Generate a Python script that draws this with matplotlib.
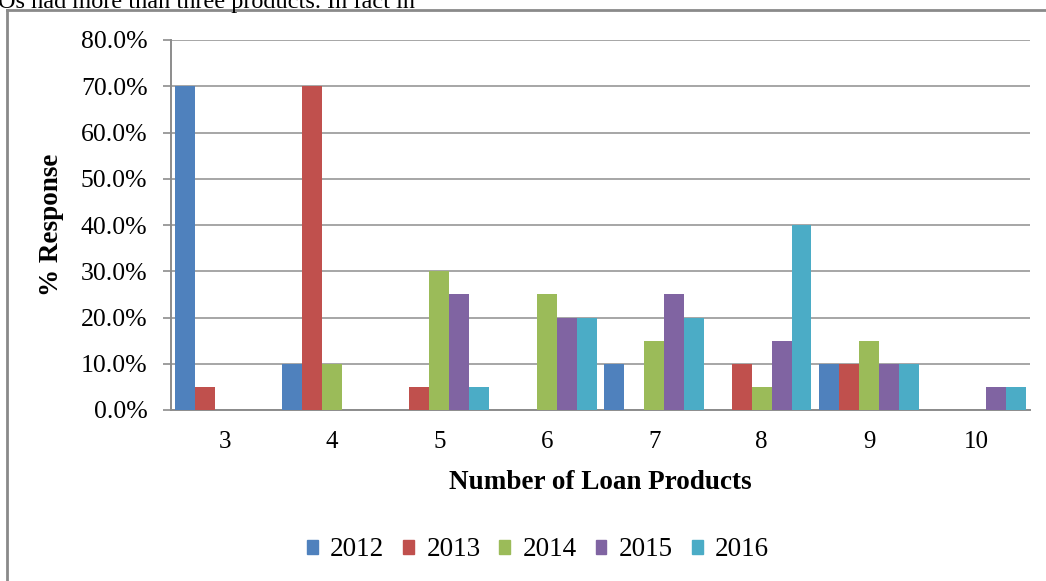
import numpy as np
import matplotlib.pyplot as plt
from matplotlib.patches import Patch
from matplotlib.lines import Line2D

plt.rcParams['font.family'] = ['Liberation Serif', 'DejaVu Serif']

# data
products = ['3', '4', '5', '6', '7', '8', '9', '10']
years = ['2012', '2013', '2014', '2015', '2016']
r2012 = [70, 10, 0, 0, 10, 0, 10, 0]
r2013 = [5, 70, 5, 0, 0, 10, 10, 0]
r2014 = [0, 10, 30, 25, 15, 5, 15, 0]
r2015 = [0, 0, 25, 20, 25, 15, 10, 5]
r2016 = [0, 0, 5, 20, 20, 40, 10, 5]
y_ticks = [0, 10, 20, 30, 40, 50, 60, 70, 80]

series = [r2012, r2013, r2014, r2015, r2016]
colors = ['#4F81BD', '#C0504D', '#9BBB59', '#8064A2', '#4BACC6']

W, H = 1046, 581
fig = plt.figure(figsize=(W / 100, H / 100), dpi=100)
ax = fig.add_axes([171 / W, 1 - 410 / H, (1030 - 171) / W, (410 - 40) / H])

x = np.arange(len(products))
bw = 0.186
for i, (vals, c) in enumerate(zip(series, colors)):
    ax.bar(x + (i - 2) * bw, vals, width=bw, color=c, zorder=3)

ax.set_xlim(-0.5, len(products) - 0.5)
ax.set_ylim(0, 80)
ax.set_yticks(y_ticks)
ax.set_yticklabels([f'{v:.1f}%' for v in y_ticks])
ax.set_xticks(x)
ax.set_xticklabels(products)
ax.grid(axis='y', color='#A6A6A6', linewidth=1.4, zorder=0)
ax.tick_params(axis='y', length=6, width=1.2, color='#8C8C8C', pad=11, labelsize=18.5)
ax.tick_params(axis='x', length=0, pad=15, labelsize=18)
for s in ['top', 'right']:
    ax.spines[s].set_visible(False)
for s in ['left', 'bottom']:
    ax.spines[s].set_color('#8C8C8C')
    ax.spines[s].set_linewidth(1.4)

ax.set_xlabel('Number of Loan Products', fontsize=19.5, fontweight='bold', labelpad=12)
ax.set_ylabel('% Response', fontsize=19.5, fontweight='bold', labelpad=12)

handles = [Patch(color=c, label=y) for c, y in zip(colors, years)]
fig.legend(handles=handles, loc='center', bbox_to_anchor=(538 / W, 1 - 550 / H),
           ncol=5, frameon=False, fontsize=19.5, handlelength=0.4, handleheight=0.4,
           handletextpad=0.45, columnspacing=0.7)

# frame of the chart box and clipped body text above it
fig.add_artist(Line2D([7 / W, 7 / W], [0, 1 - 10 / H], color='#8A8A8A', lw=2))
fig.add_artist(Line2D([7 / W, 1], [1 - 10 / H, 1 - 10 / H], color='#8A8A8A', lw=2))
fig.text(-2 / W, 1 - 8 / H, 'Os had more than three products. In fact in',
         fontsize=17.5, va='baseline', ha='left')

fig.savefig('out.png', dpi=100)
